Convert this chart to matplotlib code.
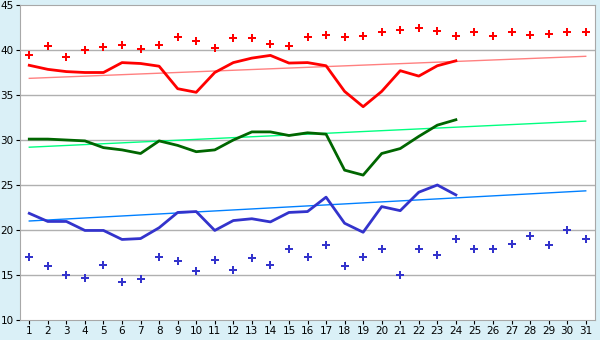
import numpy as np
import matplotlib
matplotlib.use("Agg")
import matplotlib.pyplot as plt

days = list(range(1, 32))
line_days = list(range(1, 25))

# punti rossi (max assoluti) e blu (min assoluti)
red_pts = [39.5, 40.4, 39.2, 40.0, 40.3, 40.6, 40.1, 40.6, 41.4, 41.0,
           40.2, 41.3, 41.3, 40.7, 40.5, 41.4, 41.7, 41.5, 41.6, 42.0,
           42.2, 42.5, 42.1, 41.6, 42.0, 41.6, 42.0, 41.7, 41.8, 42.0, 42.0]
blue_pts = [17.0, 16.0, 15.0, 14.7, 16.1, 14.2, 14.6, 17.0, 16.6, 15.4,
            16.7, 15.6, 16.9, 16.1, 17.9, 17.0, 18.3, 16.0, 17.0, 17.9,
            15.0, 17.9, 17.2, 19.0, 17.9, 17.9, 18.5, 19.3, 18.3, 20.0, 19.0]

# linee (giorni 1-24)
red_line = [38.3, 37.85, 37.6, 37.5, 37.5, 38.6, 38.5, 38.2, 35.7, 35.3,
            37.5, 38.6, 39.1, 39.4, 38.55, 38.6, 38.25, 35.4, 33.7, 35.4,
            37.7, 37.1, 38.25, 38.8]
green_line = [30.1, 30.1, 30.0, 29.9, 29.15, 28.9, 28.5, 29.9, 29.4, 28.7,
              28.9, 30.0, 30.9, 30.9, 30.5, 30.8, 30.65, 26.65, 26.1, 28.5,
              29.05, 30.4, 31.65, 32.25]
blue_line = [21.85, 20.95, 20.95, 19.95, 19.95, 18.95, 19.05, 20.25, 21.95, 22.05,
             19.95, 21.05, 21.25, 20.9, 21.95, 22.05, 23.65, 20.75, 19.75, 22.6,
             22.15, 24.2, 25.0, 23.9]

# tendenze (estremi giorno 1 e giorno 31)
red_trend = [36.85, 39.3]
green_trend = [29.2, 32.1]
blue_trend = [21.0, 24.35]

bg = "#daf0f7"
fig = plt.figure(figsize=(6, 3.4), dpi=100, facecolor=bg)
ax = fig.add_axes([20 / 600, 20 / 340, 575 / 600, 315 / 340])
ax.set_facecolor("white")

for y in range(15, 45, 5):
    ax.axhline(y, color="#b0b0b0", lw=1, zorder=0)

ends = [days[0], days[-1]]
ax.plot(ends, red_trend, color="#ff8080", lw=1)
ax.plot(ends, green_trend, color="#00ff80", lw=1)
ax.plot(ends, blue_trend, color="#0080ff", lw=1)

ax.plot(line_days, red_line, color="#ff0000", lw=2)
ax.plot(line_days, green_line, color="#006600", lw=2)
ax.plot(line_days, blue_line, color="#3333cc", lw=2)

ax.plot(days, red_pts, ls="none", marker="P", ms=5.5, color="#ff0000", mew=0)
ax.plot(days, blue_pts, ls="none", marker="P", ms=5.5, color="#3333cc", mew=0)

ax.set_xlim(0.5, 31.5)
ax.set_ylim(10, 45)
ax.set_xticks(days)
ax.set_yticks(range(10, 50, 5))
ax.tick_params(axis="both", labelsize=7.5, length=3, color="#000000", pad=1.5)
for s in ax.spines.values():
    s.set_color("#a8a8a8")

fig.savefig("out.png", dpi=100, facecolor=bg)
